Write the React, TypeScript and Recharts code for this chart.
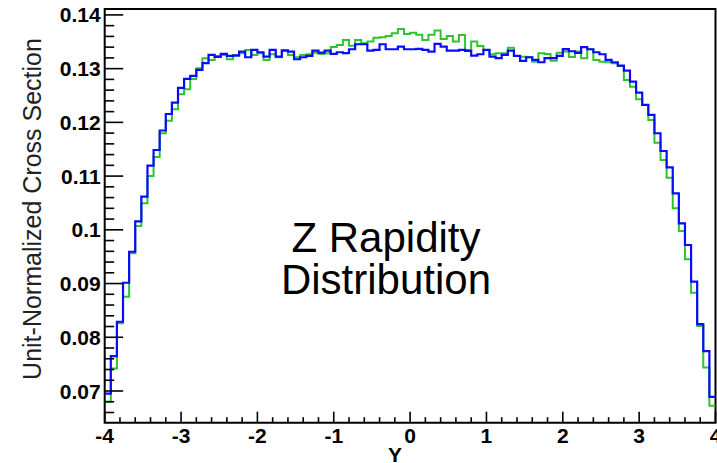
import { Customized, Line, LineChart, ReferenceArea, XAxis, YAxis } from "recharts";

// histogram binning: 100 bins over [-4, 4]
const X_MIN = -4;
const X_MAX = 4;
const N_BINS = 100;
const Y_MIN = 0.0641;
const Y_MAX = 0.1411;

const blueValues = [
  0.06952, 0.0765, 0.08289, 0.09015, 0.09592, 0.10158, 0.10616, 0.11194, 0.11486, 0.11849,
  0.12156, 0.12367, 0.12641, 0.12808, 0.12864, 0.12976, 0.13101, 0.13255, 0.13218, 0.13274,
  0.13236, 0.13242, 0.13317, 0.13212, 0.13348, 0.13305, 0.13223, 0.13348, 0.13223, 0.13335,
  0.13317, 0.13175, 0.13212, 0.13236, 0.13335, 0.13298, 0.13335, 0.13274, 0.13305, 0.13287,
  0.13361, 0.13454, 0.13454, 0.13335, 0.13348, 0.13454, 0.13361, 0.13361, 0.1341, 0.13361,
  0.13361, 0.13367, 0.13348, 0.13317, 0.1346, 0.1341, 0.13335, 0.13335, 0.13348, 0.1333,
  0.13242, 0.13268, 0.13348, 0.13223, 0.13194, 0.13255, 0.13335, 0.13236, 0.13143, 0.13212,
  0.13162, 0.13119, 0.13194, 0.13194, 0.13236, 0.13363, 0.13324, 0.13292, 0.13399, 0.13361,
  0.13305, 0.13268, 0.13162, 0.13119, 0.13056, 0.12963, 0.12758, 0.12553, 0.12324, 0.12138,
  0.11797, 0.11467, 0.11164, 0.1068, 0.10121, 0.09717, 0.09034, 0.08246, 0.07743, 0.06892,
];

const greenValues = [
  0.06799, 0.07421, 0.08259, 0.08754, 0.09562, 0.10071, 0.10493, 0.11002, 0.11356, 0.11797,
  0.12032, 0.12244, 0.12523, 0.12616, 0.12808, 0.13007, 0.13194, 0.13162, 0.13236, 0.13255,
  0.13175, 0.13255, 0.13287, 0.13348, 0.13255, 0.13287, 0.13162, 0.13268, 0.13212, 0.13348,
  0.13255, 0.13212, 0.13255, 0.13268, 0.13298, 0.13274, 0.13287, 0.13404, 0.13441, 0.13534,
  0.13428, 0.13534, 0.13473, 0.13503, 0.13577, 0.13585, 0.13609, 0.13659, 0.13739, 0.13646,
  0.1367, 0.13633, 0.13534, 0.13633, 0.13708, 0.13553, 0.13609, 0.13503, 0.13628, 0.13348,
  0.13503, 0.13423, 0.13348, 0.13268, 0.13287, 0.13287, 0.13391, 0.13236, 0.13223, 0.13212,
  0.1313, 0.13287, 0.13274, 0.13149, 0.13298, 0.13317, 0.13218, 0.13317, 0.13194, 0.13361,
  0.13162, 0.1313, 0.13119, 0.13101, 0.1305, 0.1279, 0.12665, 0.1243, 0.12324, 0.12045,
  0.11622, 0.113, 0.1097, 0.104, 0.09978, 0.09451, 0.08829, 0.08209, 0.07439, 0.06724,
];

const xMajorTicks = [-4, -3, -2, -1, 0, 1, 2, 3, 4];
const yMajorTicks = [0.07, 0.08, 0.09, 0.1, 0.11, 0.12, 0.13, 0.14];

const xTitle = "Y";
const yTitle = "Unit-Normalized Cross Section";
const noteLines = ["Z Rapidity", "Distribution"];

const FONT = "'Liberation Sans', Arial, Helvetica, sans-serif";

// 5 subdivisions between major ticks
const xTicks: number[] = [];
xMajorTicks.forEach((m, i) => {
  if (i === xMajorTicks.length - 1) {
    xTicks.push(m);
    return;
  }
  for (let k = 0; k < 5; k++) xTicks.push(+(m + k * 0.2).toFixed(3));
});
const yTicks: number[] = [0.066, 0.068];
yMajorTicks.forEach((m, i) => {
  if (i === yMajorTicks.length - 1) {
    yTicks.push(m);
    return;
  }
  for (let k = 0; k < 5; k++) yTicks.push(+(m + k * 0.002).toFixed(4));
});

const binWidth = (X_MAX - X_MIN) / N_BINS;
const data = blueValues.map((b, i) => ({
  x: +(X_MIN + i * binWidth).toFixed(3),
  blue: b,
  green: greenValues[i],
}));
data.push({ x: X_MAX, blue: blueValues[N_BINS - 1], green: greenValues[N_BINS - 1] });

const isMajor = (v: number, step: number) => Math.abs(v / step - Math.round(v / step)) < 1e-6;

function XTick({ x, y, payload }: any) {
  const v = payload.value;
  const major = isMajor(v, 1);
  return (
    <g>
      <line x1={x} x2={x} y1={y} y2={y - (major ? 11 : 5.5)} stroke="#000" strokeWidth={1.6} />
      {major && (
        <text x={x} y={y + 20} textAnchor="middle" fontSize={21} fontWeight="bold" fontFamily={FONT} fill="#000">
          {Math.round(v)}
        </text>
      )}
    </g>
  );
}

function YTick({ x, y, payload }: any) {
  const v = payload.value;
  const major = isMajor(v, 0.01);
  return (
    <g>
      <line x1={x} x2={x + (major ? 18.5 : 9.5)} y1={y} y2={y} stroke="#000" strokeWidth={1.6} />
      {major && (
        <text x={x - 4} y={y + 7.5} textAnchor="end" fontSize={21} fontWeight="bold" fontFamily={FONT} fill="#000">
          {String(+v.toFixed(2))}
        </text>
      )}
    </g>
  );
}

function XTitle() {
  return (
    <text x={395} y={462} textAnchor="middle" fontSize={21} fontWeight="bold" fontFamily={FONT} fill="#000">
      {xTitle}
    </text>
  );
}

function YTitle() {
  return (
    <text
      x={32}
      y={209}
      transform="rotate(-90 32 209)"
      textAnchor="middle"
      dominantBaseline="central"
      fontSize={25}
      fontFamily={FONT}
      fill="#222"
    >
      {yTitle}
    </text>
  );
}

function Note() {
  return (
    <g>
      {noteLines.map((t, i) => (
        <text key={t} x={386} y={252 + i * 42} textAnchor="middle" fontSize={42} fontFamily={FONT} fill="#000">
          {t}
        </text>
      ))}
    </g>
  );
}

export default function App() {
  return (
    <div style={{ position: "absolute", left: 0, top: 0, width: 717, height: 463, background: "#fff" }}>
      <LineChart width={717} height={463} data={data} margin={{ top: 9, right: 1.5, left: 0, bottom: 0 }}>
        <XAxis
          dataKey="x"
          type="number"
          domain={[X_MIN, X_MAX]}
          allowDataOverflow
          ticks={xTicks}
          interval={0}
          height={40.3}
          tickSize={0}
          tickMargin={0}
          tickLine={false}
          axisLine={false}
          tick={<XTick />}
          label={<XTitle />}
        />
        <YAxis
          type="number"
          domain={[Y_MIN, Y_MAX]}
          allowDataOverflow
          ticks={yTicks}
          interval={0}
          width={104.7}
          tickSize={0}
          tickMargin={0}
          tickLine={false}
          axisLine={false}
          tick={<YTick />}
          label={<YTitle />}
        />
        <ReferenceArea x1={X_MIN} x2={X_MAX} y1={Y_MIN} y2={Y_MAX} fill="none" stroke="#000" strokeWidth={2} />
        <Line
          type="stepAfter"
          dataKey="green"
          stroke="#2fc42f"
          strokeWidth={2}
          dot={false}
          activeDot={false}
          isAnimationActive={false}
        />
        <Line
          type="stepAfter"
          dataKey="blue"
          stroke="#0a0aff"
          strokeWidth={2.2}
          dot={false}
          activeDot={false}
          isAnimationActive={false}
        />
        <Customized component={Note} />
      </LineChart>
    </div>
  );
}
